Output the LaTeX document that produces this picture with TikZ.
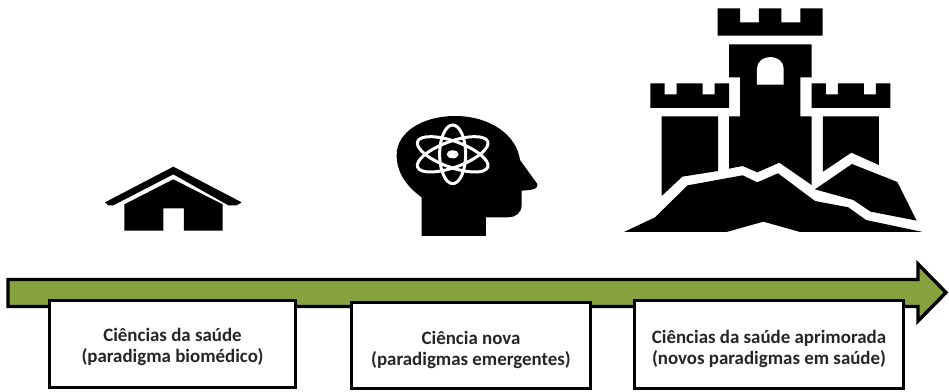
\documentclass[tikz,border=0pt]{standalone}
\usepackage{fontspec}
\setmainfont{Carlito}
\definecolor{arrowgreen}{HTML}{85A23E}
\definecolor{labeltext}{HTML}{262626}
\newcommand{\liftline}[1]{\rule{0pt}{#1pt}}
\tikzset{
  x=1pt,y=-1pt,
  labelbox/.style={draw=black,line width=3.2pt,fill=white,anchor=north west,inner sep=0pt,outer sep=0pt,align=center,font=\bfseries\fontsize{18.9}{21}\selectfont,text=labeltext,miter limit=10},
  icon/.style={fill=black,draw=none},
  zoomed/.style={x=0.3333pt,y=-0.3333pt}
}
\begin{document}
\begin{tikzpicture}
\useasboundingbox (0,0) rectangle (949,391);
\fill[white] (0,0) rectangle (949,391);
% arrow
\draw[fill=arrowgreen,draw=black,line width=3.4pt,line join=miter] (8,279.5) -- (918,279.5) -- (918,264) -- (946,292.5) -- (918,321) -- (918,306.5) -- (8,306.5) -- cycle;
% label boxes
\node[labelbox,minimum width=246pt,minimum height=87pt] (boxa) at (49.5,300.5) {\liftline{20}Ciências da saúde\\(paradigma biomédico)};
\node[labelbox,minimum width=239pt,minimum height=86pt] (boxb) at (351.5,302.5) {\liftline{22}Ciência nova\\(paradigmas emergentes)};
\node[labelbox,minimum width=269pt,minimum height=88pt] (boxc) at (634.5,300.5) {\liftline{23}Ciências da saúde aprimorada\\(novos paradigmas em saúde)};
% house
\begin{scope}[shift={(90,155)},zoomed]
\fill[icon] (45,142) -- (250,35) -- (455,142) -- (440,151) -- (415,151) -- (250,58) -- (70,151) -- (55,151) -- cycle;
\fill[icon] (103,148) -- (250,73) -- (398,148) -- (398,227) -- (282,227) -- (282,160) -- (220,160) -- (220,227) -- (103,227) -- cycle;
\end{scope}
% head
\begin{scope}[shift={(380,110)},zoomed]
\fill[icon] (125,378) -- (125,262) .. controls (75,225) and (50,185) .. (50,135) .. controls (50,65) and (130,18) .. (225,18) .. controls (330,18) and (410,75) .. (420,150) -- (472,222) .. controls (475,235) and (465,240) .. (425,242) -- (425,285) .. controls (425,310) and (405,322) .. (385,322) -- (318,322) -- (318,378) -- cycle;
\begin{scope}[draw=white,line width=3pt]
\draw (218,133) ellipse [x radius=39,y radius=88];
\draw[rotate around={20:(218,133)}] (218,133) ellipse [x radius=112,y radius=39];
\draw[rotate around={-20:(218,133)}] (218,133) ellipse [x radius=112,y radius=39];
\end{scope}
\fill[white] (218,133) ellipse [x radius=18,y radius=12];
\end{scope}
% castle
\begin{scope}[shift={(620,0)},zoomed]
\fill[icon] (293,25) -- (360,25) -- (360,67) -- (417,67) -- (417,25) -- (484,25) -- (484,67) -- (541,67) -- (541,25) -- (608,25) -- (608,107) -- (293,107) -- cycle;
\fill[icon] (91,250) -- (134,250) -- (134,283) -- (170,283) -- (170,250) -- (248,250) -- (248,283) -- (284,283) -- (284,250) -- (327,250) -- (327,324) -- (91,324) -- cycle;
\fill[icon] (575,250) -- (618,250) -- (618,283) -- (654,283) -- (654,250) -- (732,250) -- (732,283) -- (768,283) -- (768,250) -- (811,250) -- (811,324) -- (575,324) -- cycle;
\fill[icon] (125,349) -- (294,349) -- (294,513) -- (187,530) -- (125,588) -- cycle;
\fill[icon] (609,349) -- (777,349) -- (777,495) -- (694,458) -- (609,515) -- cycle;
\fill[icon] (327,133) -- (575,133) -- (575,232) -- (541,232) -- (541,349) -- (575,349) -- (575,555) -- (478,488) -- (412,517) -- (368,498) -- (327,506) -- (327,349) -- (360,349) -- (360,232) -- (327,232) -- cycle;
\fill[white] (411,254) -- (411,205) .. controls (411,185) and (430,171) .. (451,171) .. controls (472,171) and (491,185) .. (491,205) -- (491,254) -- cycle;
\fill[icon] (12,696) -- (105,652) -- (203,556) -- (368,526) -- (412,547) -- (474,520) -- (585,603) -- (685,622) -- (738,660) -- (908,696) -- (540,696) -- (430,665) -- (320,696) -- cycle;
\fill[icon] (585,568) -- (696,492) -- (832,546) -- (890,662) -- (752,635) -- (700,600) -- cycle;
\end{scope}
\end{tikzpicture}
\end{document}
